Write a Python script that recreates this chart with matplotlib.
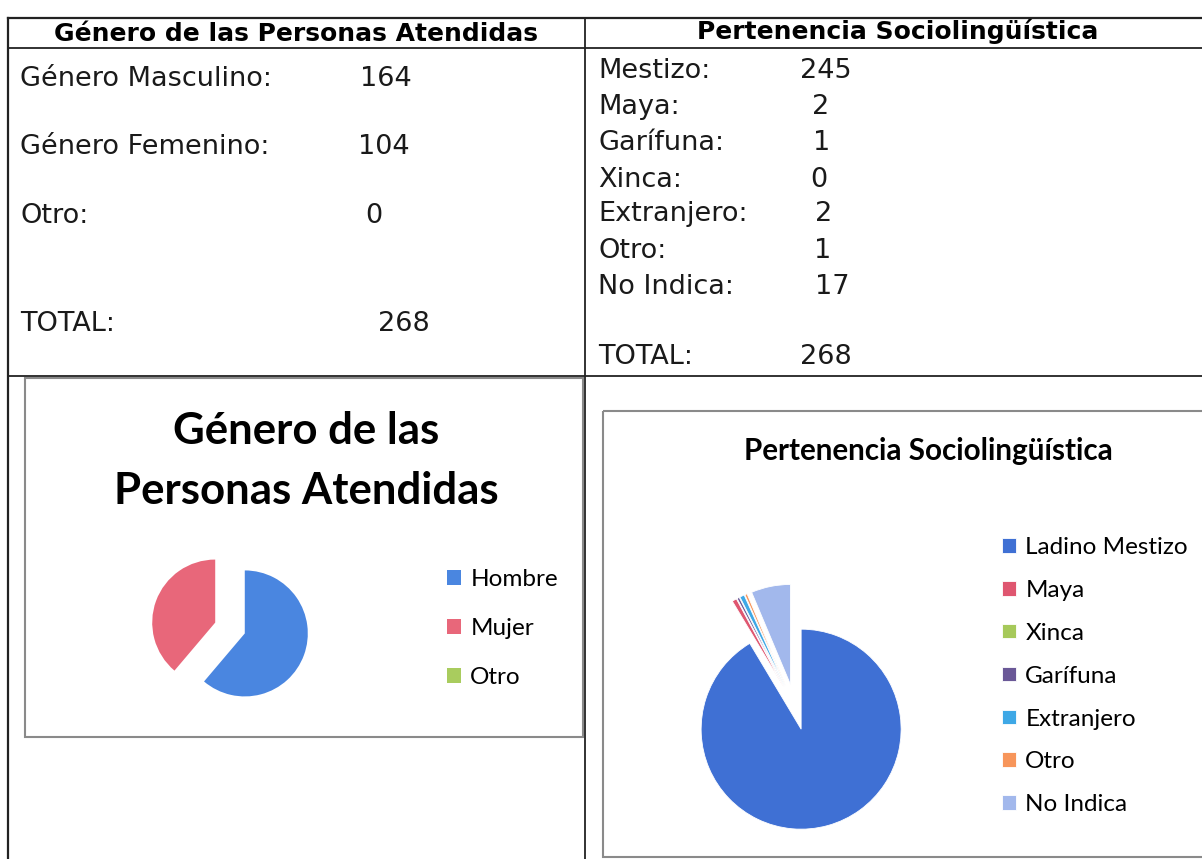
import matplotlib.pyplot as plt
from matplotlib.patches import Rectangle

# --- datos ---
genero_cat = ["Hombre", "Mujer", "Otro"]
genero_val = [164, 104, 0]
genero_col = ["#4a86e0", "#e8677a", "#a9cc5e"]

socio_cat = ["Ladino Mestizo", "Maya", "Xinca", "Garífuna", "Extranjero", "Otro", "No Indica"]
socio_val = [245, 2, 0, 1, 2, 1, 17]
socio_col = ["#3f70d4", "#df5670", "#a6c95a", "#6a5897", "#3ea8e6", "#f7955a", "#a2b8ec"]

tabla_gen_labels = ["Género Masculino:", "Género Femenino:", "Otro:", "TOTAL:"]
tabla_gen_vals = [164, 104, 0, 268]
tabla_soc_labels = ["Mestizo:", "Maya:", "Garífuna:", "Xinca:", "Extranjero:", "Otro:", "No Indica:", "TOTAL:"]
tabla_soc_vals = [245, 2, 1, 0, 2, 1, 17, 268]

# posiciones (pixeles de la pagina)
W, H = 1202, 859
gen_y = [79, 147, 216, 324]
gen_vx = [360, 358, 365, 378]
soc_y = [71, 107, 143, 180, 214, 251, 287, 357]
soc_vx = [800, 812, 813, 810, 815, 814, 815, 800]

fig = plt.figure(figsize=(W / 100, H / 100), dpi=100)
ax = fig.add_axes([0, 0, 1, 1])
ax.set_xlim(0, W)
ax.set_ylim(H, 0)
ax.axis("off")

# lineas de la tabla
lc = "#222222"
ax.plot([8, W], [18, 18], color=lc, lw=1.6)
ax.plot([8, W], [48, 48], color=lc, lw=1.3)
ax.plot([8, W], [376, 376], color=lc, lw=1.3)
ax.plot([8, 8], [18, H], color=lc, lw=1.6)
ax.plot([585, 585], [18, H], color=lc, lw=1.3)

tfont = "DejaVu Sans"
ax.text(296, 34, "Género de las Personas Atendidas", ha="center", va="center",
        fontsize=18, fontweight="bold", family=tfont)
ax.text(898, 32, "Pertenencia Sociolingüística", ha="center", va="center",
        fontsize=18, fontweight="bold", family=tfont)

for lab, val, y, vx in zip(tabla_gen_labels, tabla_gen_vals, gen_y, gen_vx):
    ax.text(20, y, lab, va="center", fontsize=19.5, family=tfont, color="#1a1a1a")
    ax.text(vx, y, str(val), va="center", fontsize=19.5, family=tfont, color="#1a1a1a")

for lab, val, y, vx in zip(tabla_soc_labels, tabla_soc_vals, soc_y, soc_vx):
    ax.text(598, y, lab, va="center", fontsize=19.5, family=tfont, color="#1a1a1a")
    ax.text(vx, y, str(val), va="center", fontsize=19.5, family=tfont, color="#1a1a1a")

# marcos de los graficos
ax.add_patch(Rectangle((25, 378), 558, 359, fill=False, ec="#8a8a8a", lw=1.5))
ax.add_patch(Rectangle((603, 411), 620, 446, fill=False, ec="#8a8a8a", lw=1.5))

cfont = "Lato"
ax.text(306, 461, "Género de las\nPersonas Atendidas", ha="center", va="center",
        fontsize=31.5, fontweight="bold", family=cfont, linespacing=1.63)
ax.text(928, 451, "Pertenencia Sociolingüística", ha="center", va="center",
        fontsize=21.3, fontweight="bold", family=cfont)


def pie_axes(cx, cy, r, half):
    pa = fig.add_axes([(cx - half) / W, (H - cy - half) / H, 2 * half / W, 2 * half / H])
    return pa, half / r


# pie 1
pa1, lim1 = pie_axes(230, 628, 63, 120)
w1, _ = pa1.pie(genero_val, colors=genero_col, startangle=90, counterclock=False,
                explode=[0.25] * len(genero_val), wedgeprops=dict(lw=0))
pa1.set_xlim(-lim1, lim1)
pa1.set_ylim(-lim1, lim1)

# pie 2
pa2, lim2 = pie_axes(795, 707, 100, 160)
w2, _ = pa2.pie(socio_val, colors=socio_col, startangle=90, counterclock=False,
                explode=[0.23] * len(socio_val), wedgeprops=dict(lw=0.6, ec="white"))
pa2.set_xlim(-lim2, lim2)
pa2.set_ylim(-lim2, lim2)

fig.legend(w1, genero_cat, loc="upper left", bbox_to_anchor=(447 / W, 1 - 569 / H),
           frameon=False, prop={"family": cfont, "size": 17.5},
           handlelength=0.58, handleheight=0.55, handletextpad=0.38, labelspacing=1.15,
           borderpad=0, borderaxespad=0)
fig.legend(w2, socio_cat, loc="upper left", bbox_to_anchor=(1002 / W, 1 - 537 / H),
           frameon=False, prop={"family": cfont, "size": 17.5},
           handlelength=0.58, handleheight=0.55, handletextpad=0.38, labelspacing=0.90,
           borderpad=0, borderaxespad=0)

fig.savefig("out.png", dpi=100)
